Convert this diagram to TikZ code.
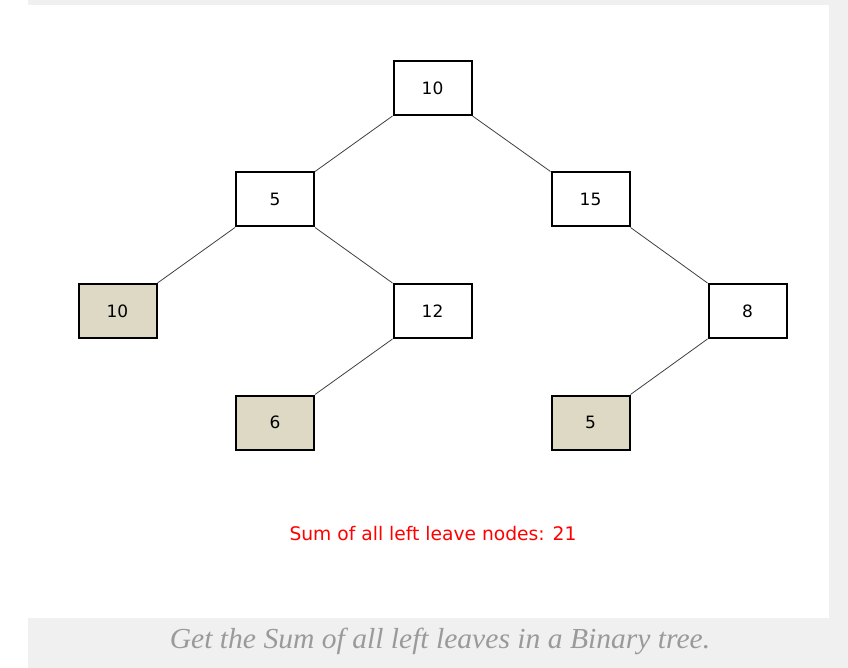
\documentclass[tikz,border=0pt]{standalone}
\usepackage{fontspec}
\setmainfont{DejaVu Sans}
\newfontfamily\capfont{Liberation Serif}
\definecolor{pagegray}{HTML}{F0F0F0}
\definecolor{leaffill}{HTML}{DDD9C4}
\definecolor{edgecol}{HTML}{404040}
\definecolor{capgray}{HTML}{9A9A9A}
\tikzset{
  treebox/.style={draw=black, line width=2pt, fill=white, minimum width=78pt, minimum height=54pt,
    inner sep=0pt, font=\fontsize{17}{20}\selectfont},
  leafbox/.style={treebox, fill=leaffill},
  edge/.style={draw=edgecol, line width=0.8pt}
}
\begin{document}
\begin{tikzpicture}[x=1pt,y=-1pt]
\useasboundingbox (0,0) rectangle (848,668);
\fill[pagegray] (28,0) rectangle (848,668);
\fill[white] (0,0) rectangle (28,668);
\fill[white] (28,5) rectangle (829,618);

\node[treebox] (r) at (432.5,88) {10};
\node[treebox] (a) at (275,199.5) {5};
\node[treebox] (b) at (590.5,199.5) {15};
\node[leafbox] (c) at (117.5,311) {10};
\node[treebox] (d) at (432.5,311) {12};
\node[treebox] (e) at (747.5,311) {8};
\node[leafbox] (f) at (275,422.5) {6};
\node[leafbox] (g) at (590.5,422.5) {5};

\draw[edge] (r.south west) -- (a.north east);
\draw[edge] (r.south east) -- (b.north west);
\draw[edge] (a.south west) -- (c.north east);
\draw[edge] (a.south east) -- (d.north west);
\draw[edge] (d.south west) -- (f.north east);
\draw[edge] (b.south east) -- (e.north west);
\draw[edge] (e.south west) -- (g.north east);

\node[text=red, font=\fontsize{18.7}{22}\selectfont, inner sep=0pt] (sum) at (433,534) {Sum of all left leave nodes: 21};
\node[text=capgray, font=\capfont\itshape\fontsize{29}{34}\selectfont, inner sep=0pt, xscale=1.02] (cap) at (440,641) {Get the Sum of all left leaves in a Binary tree.};
\end{tikzpicture}
\end{document}
